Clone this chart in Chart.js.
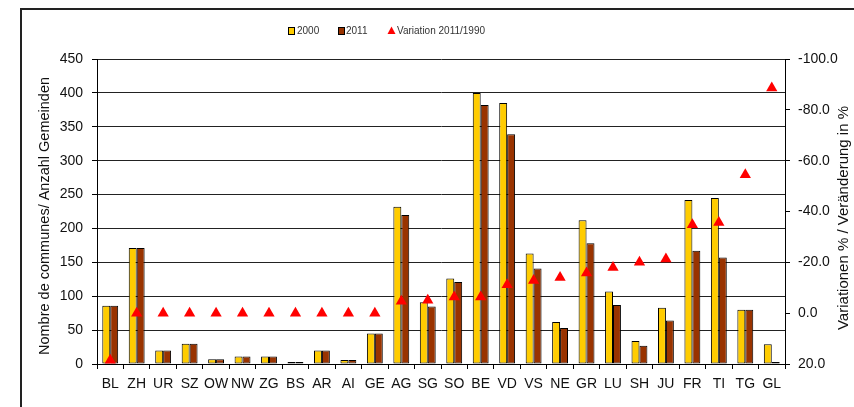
<!DOCTYPE html>
<html>
<head>
<meta charset="utf-8">
<script src="https://cdn.jsdelivr.net/npm/chart.js@4.4.1/dist/chart.umd.min.js"></script>
<style>
html,body{margin:0;padding:0;background:#fff;}
#wrap{width:854px;height:407px;position:relative;}
</style>
</head>
<body>
<div id="wrap"><canvas id="c" width="854" height="407"></canvas></div>
<script>
const categories = ['BL','ZH','UR','SZ','OW','NW','ZG','BS','AR','AI','GE','AG','SG','SO','BE','VD','VS','NE','GR','LU','SH','JU','FR','TI','TG','GL'];
const values2000 = [86,171,20,30,7,11,11,3,20,6,45,232,91,126,400,385,163,62,212,107,34,83,242,245,80,29];
const values2011 = [86,171,20,30,7,11,11,3,20,6,45,220,85,121,382,339,141,53,178,87,27,64,167,157,80,3];
const variation = [18.5,0,0,0,0,0,0,0,0,0,0,-4.7,-5.1,-6.4,-6.4,-11.2,-12.9,-14,-15.8,-18,-20,-21.3,-34.8,-35.7,-54.5,-88.6];
const seriesLabels = ['2000','2011','Variation 2011/1990'];
const leftTitle = 'Nombre de communes/ Anzahl Gemeinden';
const rightTitle = 'Variationen % / Veränderung in %';

const FONT = 'Liberation Sans, Arial, sans-serif';
const COL2000 = '#FFCC00', COL2011 = '#993300', COLVAR = '#FF0000';

const framePlugin = {
  id: 'frame',
  beforeDraw(chart) {
    const ctx = chart.ctx;
    ctx.save();
    ctx.fillStyle = '#fff';
    ctx.fillRect(0, 0, chart.width, chart.height);
    ctx.strokeStyle = '#222';
    ctx.lineWidth = 2;
    ctx.strokeRect(21, 9, 900, 500);
    ctx.restore();
  },
  afterDraw(chart) {
    const ctx = chart.ctx;
    ctx.save();
    ctx.fillStyle = '#111';
    ctx.textAlign = 'center';
    ctx.textBaseline = 'middle';
    ctx.font = '14.5px ' + FONT;
    ctx.save(); ctx.translate(45, 216); ctx.rotate(-Math.PI / 2); ctx.fillText(leftTitle, 0, 0); ctx.restore();
    ctx.font = '15px ' + FONT;
    ctx.save(); ctx.translate(844, 218); ctx.rotate(-Math.PI / 2); ctx.fillText(rightTitle, 0, 0); ctx.restore();
    ctx.textAlign = 'left';
    ctx.font = '10px ' + FONT;
    const y = 31;
    ctx.strokeStyle = '#000'; ctx.lineWidth = 1;
    ctx.fillStyle = COL2000;
    ctx.fillRect(288.5, 27.5, 6, 7);
    ctx.strokeRect(288.5, 27.5, 6, 7);
    ctx.fillStyle = '#333';
    ctx.fillText(seriesLabels[0], 297, y);
    ctx.fillStyle = COL2011;
    ctx.fillRect(338.5, 27.5, 6, 7);
    ctx.strokeRect(338.5, 27.5, 6, 7);
    ctx.fillStyle = '#333';
    ctx.fillText(seriesLabels[1], 346, y);
    ctx.fillStyle = COLVAR;
    ctx.beginPath();
    ctx.moveTo(391.5, 26.5);
    ctx.lineTo(395.5, 34);
    ctx.lineTo(387.5, 34);
    ctx.closePath();
    ctx.fill();
    ctx.fillStyle = '#333';
    ctx.fillText(seriesLabels[2], 397, y);
    ctx.restore();
  }
};

new Chart(document.getElementById('c'), {
  data: {
    labels: categories,
    datasets: [
      { type: 'bar', label: seriesLabels[0], data: values2000, yAxisID: 'y',
        backgroundColor: COL2000, borderColor: '#000', borderWidth: 1, borderSkipped: false, order: 1,
        categoryPercentage: 0.6, barPercentage: 1.0 },
      { type: 'bar', label: seriesLabels[1], data: values2011, yAxisID: 'y',
        backgroundColor: COL2011, borderColor: '#000', borderWidth: 1, borderSkipped: false, order: 1,
        categoryPercentage: 0.6, barPercentage: 1.0 },
      { type: 'line', label: seriesLabels[2], data: variation, yAxisID: 'y1', showLine: false,
        pointStyle: 'triangle', pointRadius: 6.5, pointHoverRadius: 6.5,
        backgroundColor: COLVAR, borderColor: COLVAR, borderWidth: 0, order: 0 }
    ]
  },
  options: {
    responsive: false,
    devicePixelRatio: 1,
    animation: false,
    layout: { padding: { top: 59, left: 30, right: 0, bottom: 0 } },
    plugins: { legend: { display: false }, tooltip: { enabled: false } },
    scales: {
      x: {
        offset: true,
        grid: { display: true, drawOnChartArea: false, offset: true, tickLength: 5, color: '#000' },
        border: { display: true, color: '#000', width: 1 },
        ticks: { color: '#111', font: { family: FONT, size: 14 }, padding: 7, maxRotation: 0, autoSkip: false },
        afterFit(s) { s.height = 43; }
      },
      y: {
        position: 'left', min: 0, max: 450,
        ticks: { stepSize: 50, color: '#111', font: { family: FONT, size: 14 }, padding: 9 },
        grid: { color: '#222', lineWidth: 1, tickLength: 5, tickColor: '#000' },
        border: { display: true, color: '#000', width: 1 },
        afterFit(s) { s.width = 67; }
      },
      y1: {
        position: 'right', min: -100, max: 20, reverse: true,
        ticks: { stepSize: 20, color: '#111', font: { family: FONT, size: 14 }, padding: 8,
          callback: v => Number(v).toFixed(1) },
        grid: { drawOnChartArea: false, tickLength: 5, color: '#000' },
        border: { display: true, color: '#000', width: 1 },
        afterFit(s) { s.width = 69; }
      }
    }
  },
  plugins: [framePlugin]
});
</script>
</body>
</html>
